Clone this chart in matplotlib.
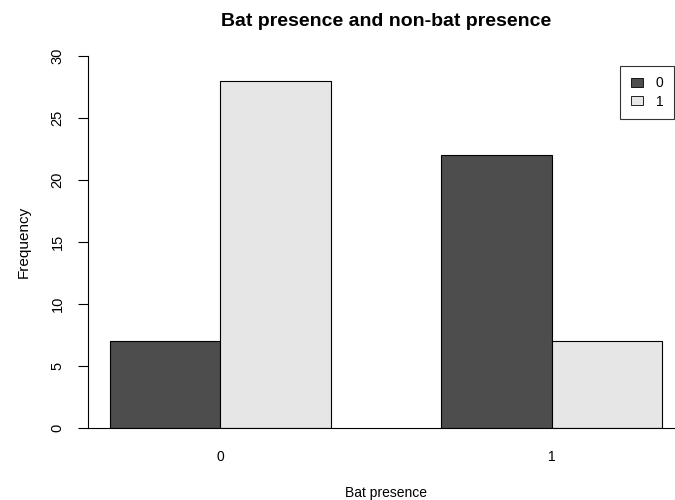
import matplotlib
matplotlib.use("Agg")
import matplotlib.pyplot as plt
import numpy as np

plt.rcParams['font.family'] = ['Liberation Sans', 'DejaVu Sans']

groups = ["0", "1"]            # Bat presence
series = ["0", "1"]            # legend (non-bat presence)
values = {"0": [7, 22], "1": [28, 7]}
colors = {"0": "#4D4D4D", "1": "#E6E6E6"}
yticks = [0, 5, 10, 15, 20, 25, 30]

W, H = 675, 500
fig = plt.figure(figsize=(W / 100, H / 100), dpi=100)
left_px, right_px, top_px, bot_px = 88, 684, 56, 428
ax = fig.add_axes([left_px / W, 1 - bot_px / H, (right_px - left_px) / W, (bot_px - top_px) / H])

# R barplot layout: width 1, space between groups 1
for gi, g in enumerate(groups):
    for si, s in enumerate(series):
        xl = 1 + gi * 3 + si
        ax.bar(xl + 0.5, values[s][gi], width=1.0, color=colors[s],
               edgecolor="black", linewidth=0.8,
               label=s if gi == 0 else None)

ax.set_xlim(0.8, 6.2)
ax.set_ylim(0, 30)
ax.set_xticks([2 + 3 * gi for gi in range(len(groups))])
ax.set_xticklabels(groups, fontsize=10)
ax.tick_params(axis='x', length=0, pad=16)
ax.set_yticks(yticks)
ax.set_yticklabels([str(t) for t in yticks], fontsize=10.5, rotation=90, va='center')
ax.tick_params(axis='y', length=7, width=0.8, pad=10)

for sp in ["top", "right"]:
    ax.spines[sp].set_visible(False)
ax.spines["left"].set_linewidth(0.8)
ax.spines["bottom"].set_linewidth(0.8)

ax.set_ylabel("Frequency", fontsize=11, labelpad=14)
fig.text(386 / W, 1 - 493 / H, "Bat presence", fontsize=10, ha='center', va='center')
fig.text(386 / W, 1 - 21 / H, "Bat presence and non-bat presence",
         fontsize=14, fontweight='bold', ha='center', va='center')

leg = ax.legend(loc='upper right', bbox_to_anchor=(674 / W, 1 - 66 / H),
                bbox_transform=fig.transFigure, fontsize=10, frameon=True,
                fancybox=False, edgecolor='black', handlelength=0.85,
                handleheight=0.65, borderpad=0.75, handletextpad=0.95,
                labelspacing=0.3, borderaxespad=0)
leg.get_frame().set_linewidth(0.8)
for p in leg.get_patches():
    p.set_linewidth(0.6)

fig.savefig("out.png", dpi=100)
